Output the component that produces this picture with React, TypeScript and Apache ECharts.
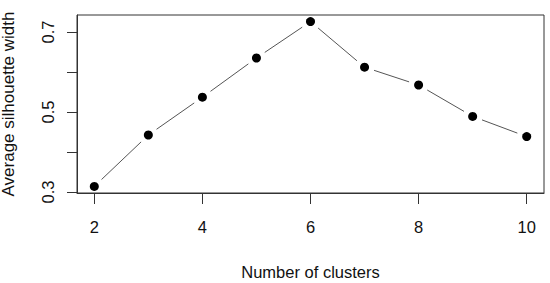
import React, { useEffect, useRef } from "react";
import * as echarts from "echarts";

const clusters = [2, 3, 4, 5, 6, 7, 8, 9, 10];
const silhouette = [0.314, 0.4425, 0.537, 0.635, 0.726, 0.612, 0.5675, 0.489, 0.4385];
const xTicks = [2, 4, 6, 8, 10];
const yTicks = [0.3, 0.4, 0.5, 0.6, 0.7];
const yLabels = [0.3, 0.5, 0.7];

const FONT = "Arial, 'Liberation Sans', sans-serif";

export default function App() {
  const ref = useRef<HTMLDivElement>(null);
  useEffect(() => {
    if (!ref.current) return;
    const chart = echarts.init(ref.current, null, { renderer: "svg" });
    const points = clusters.map((x, i) => [x, silhouette[i]]);
    const segments = clusters.slice(0, -1).map((x, i) => [x, silhouette[i], clusters[i + 1], silhouette[i + 1]]);
    const gap = 10;
    chart.setOption({
      animation: false,
      backgroundColor: "#ffffff",
      grid: {
        left: 77,
        right: 6,
        top: 15,
        bottom: 90,
        show: true,
        borderColor: "#333333",
        borderWidth: 1,
        backgroundColor: "transparent",
        containLabel: false,
        outerBoundsMode: "none",
      },
      xAxis: {
        type: "value",
        min: 1.68,
        max: 10.32,
        name: "Number of clusters",
        nameLocation: "middle",
        nameGap: 70,
        nameTextStyle: { fontFamily: FONT, fontSize: 16.5, color: "#111111" },
        axisLine: { show: true, lineStyle: { color: "#333333", width: 1 } },
        axisTick: { show: true, inside: false, length: 11, customValues: xTicks, lineStyle: { color: "#333333" } },
        axisLabel: { customValues: xTicks, margin: 25, fontFamily: FONT, fontSize: 16.5, color: "#111111" },
        splitLine: { show: false },
      },
      yAxis: {
        type: "value",
        min: 0.2975,
        max: 0.7425,
        name: "Average silhouette width",
        nameLocation: "middle",
        nameRotate: 90,
        nameGap: 60,
        nameTextStyle: { fontFamily: FONT, fontSize: 17, color: "#111111" },
        axisLine: { show: true, lineStyle: { color: "#333333", width: 1 } },
        axisTick: { show: true, inside: false, length: 10, customValues: yTicks, lineStyle: { color: "#333333" } },
        axisLabel: {
          customValues: yLabels,
          rotate: 90,
          margin: 21,
          fontFamily: FONT,
          fontSize: 16.5,
          color: "#111111",
          formatter: (v: number) => v.toFixed(1),
        },
        splitLine: { show: false },
      },
      series: [
        {
          type: "custom",
          data: segments,
          renderItem: (params: any, api: any) => {
            const p1 = api.coord([api.value(0), api.value(1)]);
            const p2 = api.coord([api.value(2), api.value(3)]);
            const dx = p2[0] - p1[0];
            const dy = p2[1] - p1[1];
            const len = Math.sqrt(dx * dx + dy * dy);
            if (len <= 2 * gap) return null;
            const ux = dx / len;
            const uy = dy / len;
            return {
              type: "line",
              shape: {
                x1: p1[0] + ux * gap,
                y1: p1[1] + uy * gap,
                x2: p2[0] - ux * gap,
                y2: p2[1] - uy * gap,
              },
              style: { stroke: "#555555", lineWidth: 1 },
            };
          },
          silent: true,
        },
        {
          type: "scatter",
          data: points,
          symbol: "circle",
          symbolSize: 9,
          itemStyle: { color: "#000000", opacity: 1 },
          silent: true,
        },
      ],
    });
    return () => chart.dispose();
  }, []);
  return (
    <div
      ref={ref}
      style={{ position: "fixed", left: 0, top: 0, width: 550, height: 283, background: "#fff" }}
    />
  );
}
